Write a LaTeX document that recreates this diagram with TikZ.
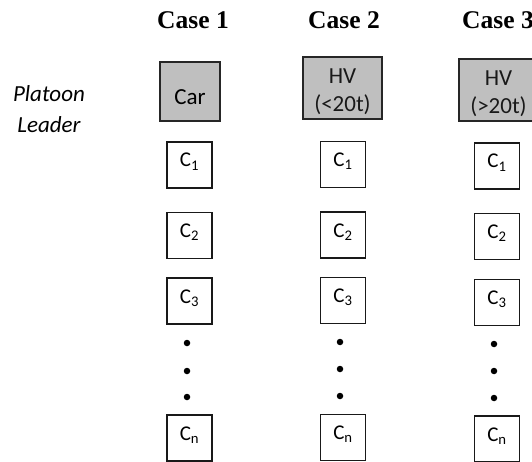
\documentclass[tikz,border=0pt]{standalone}
\usepackage{fontspec}
\setmainfont{Carlito}
\newfontfamily\titlefont{Liberation Serif}
\tikzset{
  leadbox/.style={draw=black!85, line width=1.6pt, fill=black!25, inner sep=0pt},
  folbox/.style={draw=black!90, line width=1.6pt, fill=white, inner sep=0pt,
    minimum width=45pt, text height=25pt, text depth=21pt, font=\fontsize{21}{24}\selectfont},
  leadtext/.style={align=center, inner sep=0pt, font=\fontsize{23}{28}\selectfont, text=black!90},
  casetitle/.style={inner sep=0pt, anchor=base, font=\titlefont\bfseries\fontsize{25.5}{30}\selectfont},
  dotnode/.style={circle, fill=black, inner sep=0pt, minimum size=6.5pt},
}
\begin{document}
\begin{tikzpicture}[x=1pt,y=-1pt]
\useasboundingbox (0,0) rectangle (532,462);
% titles
\node[casetitle] (t1) at (193,29) {Case 1};
\node[casetitle] (t2) at (344,29) {Case 2};
\node[casetitle] (t3) at (498,29) {Case 3};
% side label
\node[inner sep=0pt, anchor=base, font=\itshape\fontsize{23}{28}\selectfont] (pl1) at (49,102) {Platoon};
\node[inner sep=0pt, anchor=base, font=\itshape\fontsize{23}{28}\selectfont] (pl2) at (49,133) {Leader};
% leaders
\node[leadbox, minimum width=60pt, text height=43pt, text depth=16pt, font=\fontsize{23}{28}\selectfont] (L1) at (190,91.5) {Car};
\node[leadbox, minimum width=79pt, minimum height=62pt] (L2) at (342.5,88) {};
\node[leadtext, yshift=-4pt] (L2t) at (L2.center) {HV\\(<20t)};
\node[leadbox, minimum width=79pt, minimum height=62pt] (L3) at (498.5,90) {};
\node[leadtext, yshift=-4pt] (L3t) at (L3.center) {HV\\(>20t)};
% case 1 followers
\node[folbox] (a1) at (189.5,165) {C\textsubscript{1}};
\node[folbox] (a2) at (189.5,235.5) {C\textsubscript{2}};
\node[folbox] (a3) at (189.5,301) {C\textsubscript{3}};
\node[dotnode] (ad1) at (187,343) {};
\node[dotnode] (ad2) at (187,371) {};
\node[dotnode] (ad3) at (187,397) {};
\node[folbox] (an) at (189.5,438) {C\textsubscript{n}};
% case 2 followers
\node[folbox] (b1) at (343,164.5) {C\textsubscript{1}};
\node[folbox] (b2) at (343,235) {C\textsubscript{2}};
\node[folbox] (b3) at (343,300.5) {C\textsubscript{3}};
\node[dotnode] (bd1) at (340,342) {};
\node[dotnode] (bd2) at (340,369) {};
\node[dotnode] (bd3) at (340,396) {};
\node[folbox] (bn) at (343,437.5) {C\textsubscript{n}};
% case 3 followers
\node[folbox] (c1) at (497,166) {C\textsubscript{1}};
\node[folbox] (c2) at (497,236.5) {C\textsubscript{2}};
\node[folbox] (c3) at (497,302.5) {C\textsubscript{3}};
\node[dotnode] (cd1) at (494,344) {};
\node[dotnode] (cd2) at (494,371) {};
\node[dotnode] (cd3) at (494,398) {};
\node[folbox] (cn) at (497,439) {C\textsubscript{n}};
\end{tikzpicture}
\end{document}
